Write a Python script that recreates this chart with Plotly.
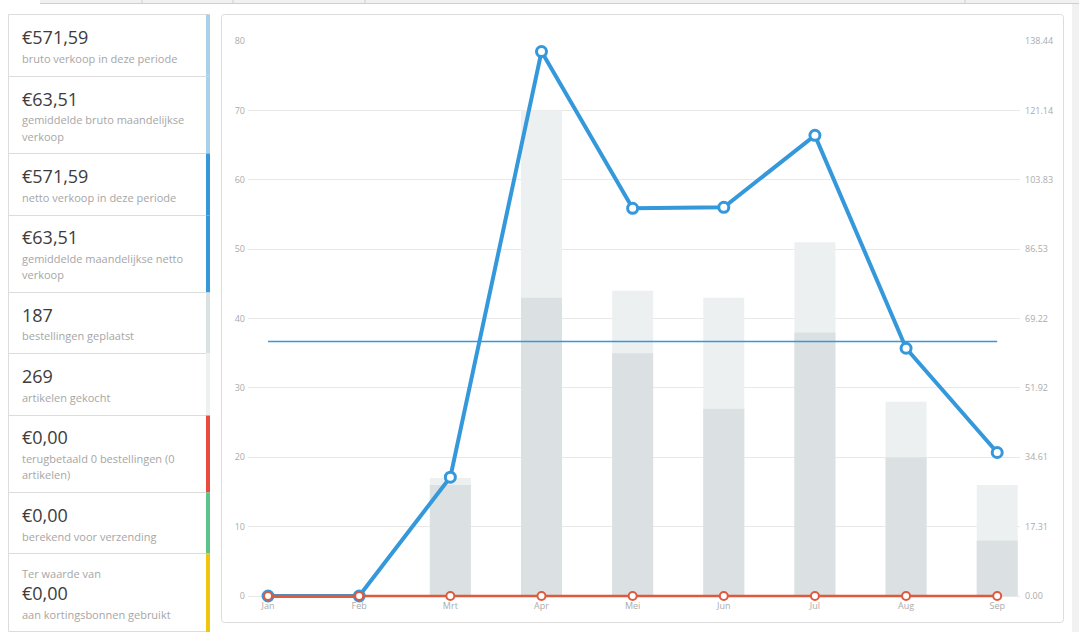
import plotly.graph_objects as go

W, H = 1079, 632

months = ["Jan", "Feb", "Mrt", "Apr", "Mei", "Jun", "Jul", "Aug", "Sep"]
items_bought = [0, 0, 17, 70, 44, 43, 51, 28, 16]
orders_placed = [0, 0, 16, 43, 35, 27, 38, 20, 8]
net_sales = [0, 0, 29.65, 135.80, 96.70, 96.95, 114.90, 61.80, 35.79]
avg_net_sales = 63.51
shipping = [0, 0, 0, 0, 0, 0, 0, 0, 0]

left_ticks = [0, 10, 20, 30, 40, 50, 60, 70, 80]
right_ticks = [0.00, 17.31, 34.61, 51.92, 69.22, 86.53, 103.83, 121.14, 138.44]

summary_values = ["€571,59", "€63,51", "€571,59", "€63,51", "187", "269", "€0,00", "€0,00", "€0,00"]
summary_labels = [
    ["bruto verkoop in deze periode"],
    ["gemiddelde bruto maandelijkse", "verkoop"],
    ["netto verkoop in deze periode"],
    ["gemiddelde maandelijkse netto", "verkoop"],
    ["bestellingen geplaatst"],
    ["artikelen gekocht"],
    ["terugbetaald 0 bestellingen (0", "artikelen)"],
    ["berekend voor verzending"],
    ["aan kortingsbonnen gebruikt"],
]
summary_prefix = ["", "", "", "", "", "", "", "", "Ter waarde van"]
strip_colors = ["#a9d1ea", "#a9d1ea", "#3498db", "#3498db", "#dbe1e3", "#ecf0f1",
                "#e74c3c", "#5cc488", "#f1c40f"]


def px(x):
    return x / W


def py(y):
    return 1 - y / H


FONT = "Open Sans"
fig = go.Figure()

fig.add_trace(go.Bar(x=months, y=items_bought, marker=dict(color="#ecf0f1", line=dict(width=0)),
                     width=0.45, name="artikelen", hoverinfo="skip"))
fig.add_trace(go.Bar(x=months, y=orders_placed, marker=dict(color="#dbe1e3", line=dict(width=0)),
                     width=0.45, name="bestellingen", hoverinfo="skip"))
fig.add_trace(go.Scatter(x=[months[0], months[-1]], y=[avg_net_sales, avg_net_sales], yaxis="y2",
                         mode="lines", line=dict(color="#3498db", width=1.5), name="gemiddelde"))
fig.add_trace(go.Scatter(x=months, y=net_sales, yaxis="y2", mode="lines+markers",
                         line=dict(color="#3498db", width=4),
                         marker=dict(size=10, color="white", line=dict(color="#3498db", width=3)),
                         name="netto", cliponaxis=False))
fig.add_trace(go.Scatter(x=months, y=shipping, yaxis="y2", mode="lines+markers",
                         line=dict(color="#dd5a3e", width=2.5),
                         marker=dict(size=8, color="white", line=dict(color="#dd5a3e", width=2)),
                         name="verzending", cliponaxis=False))

shapes = []
annotations = []

# top tab strip
shapes.append(dict(type="rect", xref="paper", yref="paper", x0=px(40), x1=px(W), y0=py(3.5), y1=py(0),
                   fillcolor="#f1f1f1", line=dict(width=0), layer="below"))
shapes.append(dict(type="line", xref="paper", yref="paper", x0=px(40), x1=px(W), y0=py(3.5), y1=py(3.5),
                   line=dict(color="#cfcfcf", width=1), layer="below"))
for sx in [142, 233, 365, 965]:
    shapes.append(dict(type="line", xref="paper", yref="paper", x0=px(sx), x1=px(sx), y0=py(0), y1=py(3.5),
                       line=dict(color="#cfcfcf", width=1), layer="below"))
# right strip
shapes.append(dict(type="rect", xref="paper", yref="paper", x0=px(1072), x1=px(W), y0=0, y1=py(4),
                   fillcolor="#f1f1f1", line=dict(width=0), layer="below"))

# chart box with rounded corners
x0, x1, y0, y1, r = 221.5, 1063.5, 14.5, 622.5, 3
rx, ry = r / W, r / H
path = (f"M {px(x0)+rx},{py(y0)} L {px(x1)-rx},{py(y0)} Q {px(x1)},{py(y0)} {px(x1)},{py(y0)-ry} "
        f"L {px(x1)},{py(y1)+ry} Q {px(x1)},{py(y1)} {px(x1)-rx},{py(y1)} "
        f"L {px(x0)+rx},{py(y1)} Q {px(x0)},{py(y1)} {px(x0)},{py(y1)+ry} "
        f"L {px(x0)},{py(y0)-ry} Q {px(x0)},{py(y0)} {px(x0)+rx},{py(y0)} Z")
shapes.append(dict(type="path", xref="paper", yref="paper", path=path, fillcolor="white",
                   line=dict(color="#dcdcdc", width=1), layer="below"))

# left summary panel
shapes.append(dict(type="rect", xref="paper", yref="paper", x0=px(8.5), x1=px(209.5), y0=py(631.5), y1=py(14.5),
                   fillcolor="white", line=dict(color="#dcdcdc", width=1), layer="below"))
row_edges = [14.5, 76.5, 153.5, 215.5, 292.5, 353.5, 415.5, 492.5, 553.5, 632]
for i in range(9):
    ya, yb = row_edges[i], row_edges[i + 1]
    if i > 0:
        shapes.append(dict(type="line", xref="paper", yref="paper", x0=px(8.5), x1=px(206), y0=py(ya), y1=py(ya),
                           line=dict(color="#dcdcdc", width=1), layer="below"))
    shapes.append(dict(type="rect", xref="paper", yref="paper", x0=px(206), x1=px(210), y0=py(yb), y1=py(ya),
                       fillcolor=strip_colors[i], line=dict(width=0), layer="below"))

value_y = [37.5, 99, 176, 237, 315, 376, 437, 515, 593]
label_y = [[58], [119, 136], [197], [258, 274], [336], [397], [458, 474], [536], [614]]
for i in range(9):
    annotations.append(dict(x=px(20), y=py(value_y[i]), xref="paper", yref="paper", text=summary_values[i],
                            showarrow=False, xanchor="left", yanchor="middle",
                            font=dict(family=FONT, size=18, color="#3c3c3c")))
    for txt, ly in zip(summary_labels[i], label_y[i]):
        annotations.append(dict(x=px(20), y=py(ly), xref="paper", yref="paper", text=txt,
                                showarrow=False, xanchor="left", yanchor="middle",
                                font=dict(family=FONT, size=11, color="#a6a6a6")))
    if summary_prefix[i]:
        annotations.append(dict(x=px(20), y=py(573), xref="paper", yref="paper", text=summary_prefix[i],
                                showarrow=False, xanchor="left", yanchor="middle",
                                font=dict(family=FONT, size=11, color="#a6a6a6")))

# axis geometry: value 0 at pixel 596, value 80 at pixel 41; small pad below 0 so lines at 0 aren't clipped
Y_TOP_PX, Y_ZERO_PX, Y_MAX = 41, 596, 80
PAD = 1.0
unit_px = (Y_ZERO_PX - Y_TOP_PX) / Y_MAX
bottom_px = Y_ZERO_PX + PAD * unit_px
R_MAX = right_ticks[-1]

fig.update_layout(
    width=W, height=H, autosize=False,
    margin=dict(l=0, r=0, t=0, b=0, pad=0),
    paper_bgcolor="white", plot_bgcolor="rgba(0,0,0,0)",
    showlegend=False, barmode="overlay",
    font=dict(family=FONT, size=9, color="#ababab"),
    xaxis=dict(domain=[px(248), px(1020)], type="category", categoryorder="array", categoryarray=months,
               range=[-0.22, 8.25], showgrid=False, zeroline=False, showline=False, ticks="",
               automargin=False, ticklabelstandoff=-4,
               tickfont=dict(family=FONT, size=9, color="#ababab"), fixedrange=True),
    yaxis=dict(domain=[1 - bottom_px / H, 1 - Y_TOP_PX / H], range=[-PAD, Y_MAX], tickvals=left_ticks,
               ticktext=[str(v) for v in left_ticks], showgrid=True, gridcolor="#e8e8e8", gridwidth=1,
               zeroline=False, showline=False, ticks="",
               automargin=False,
               ticklabelstandoff=2, tickfont=dict(family=FONT, size=9, color="#ababab")),
    yaxis2=dict(overlaying="y", side="right", range=[-PAD * R_MAX / Y_MAX, R_MAX], tickvals=right_ticks,
                ticktext=[f"{v:.2f}" for v in right_ticks], showgrid=False, zeroline=False, showline=False,
                automargin=False,
                ticks="", ticklabelstandoff=4, tickfont=dict(family=FONT, size=9, color="#ababab")),
    shapes=shapes, annotations=annotations,
)

post = ("document.documentElement.style.margin='0';document.documentElement.style.overflow='hidden';"
        "document.body.style.margin='0';document.body.style.padding='0';document.body.style.overflow='hidden';"
        "var d=document.getElementById('{plot_id}');d.style.position='fixed';d.style.top='0px';"
        "d.style.left='0px';d.style.margin='0';")
fig.write_html("out.html", config={"responsive": False, "displayModeBar": False},
               default_width="1079px", default_height="632px", post_script=post)
